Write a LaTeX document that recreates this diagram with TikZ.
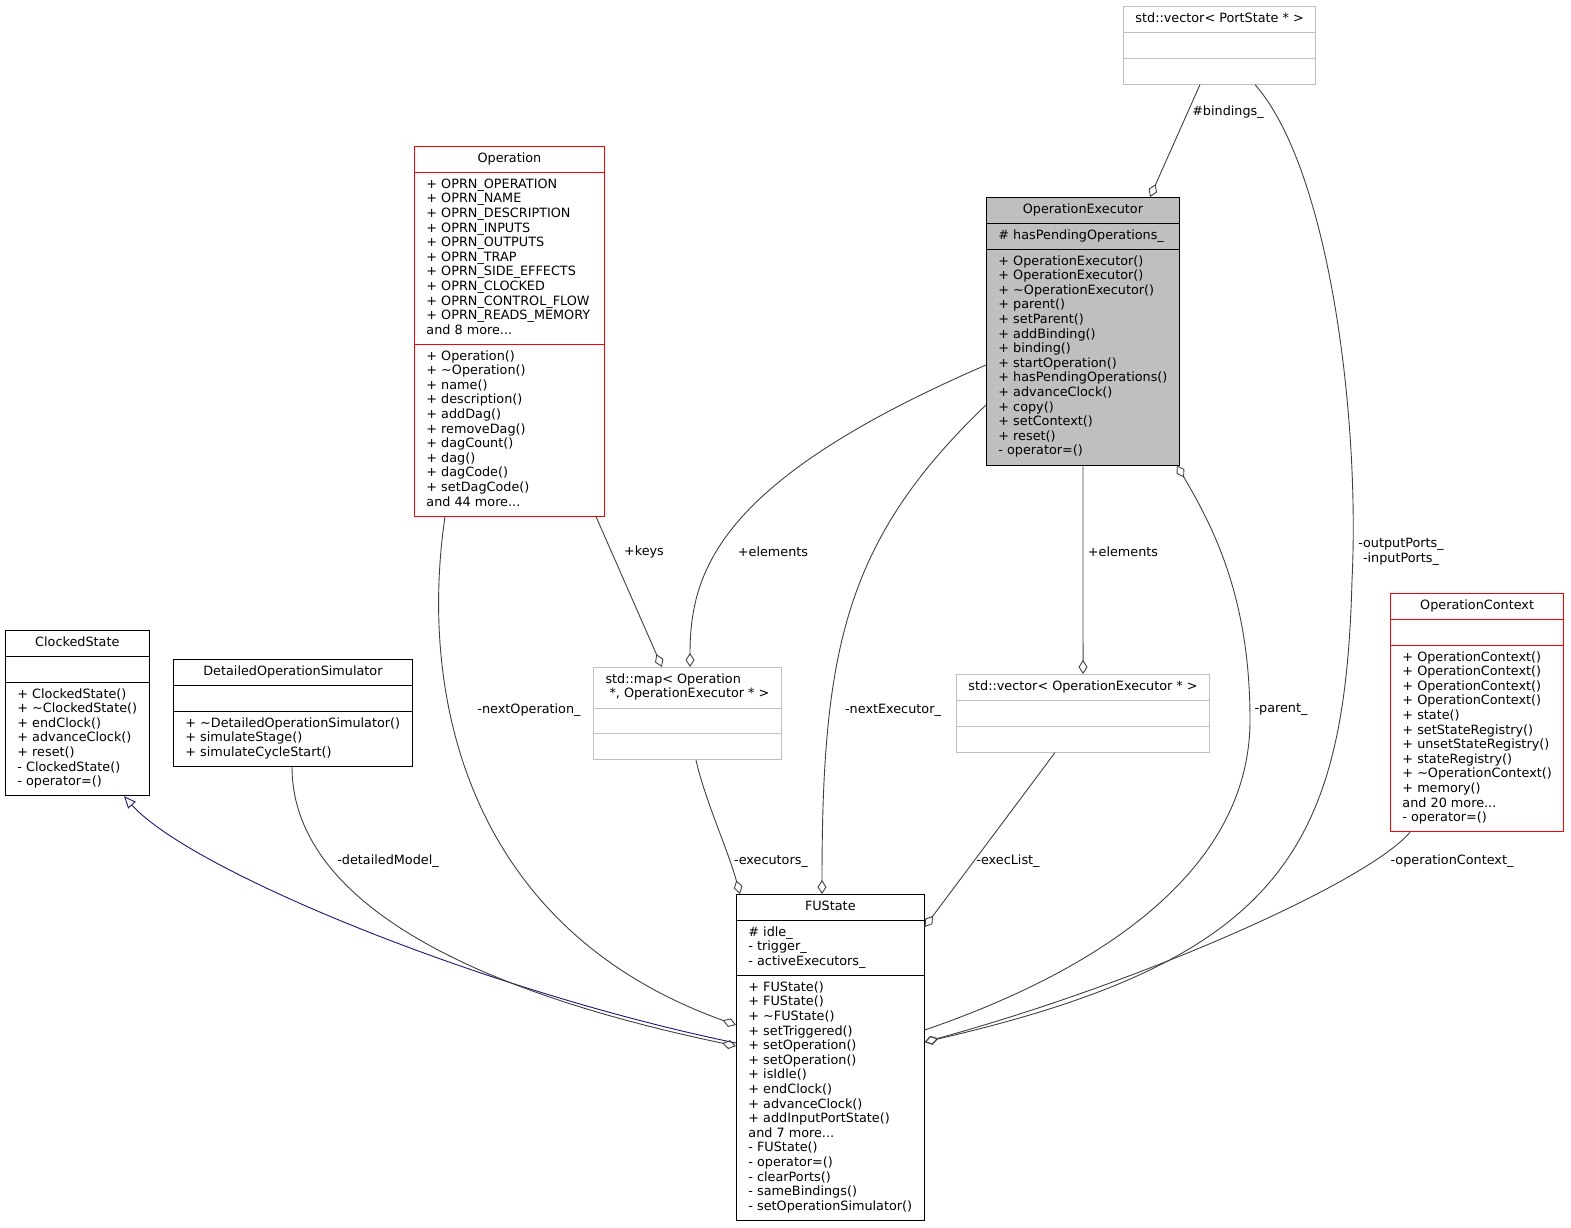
\documentclass[tikz,border=0pt]{standalone}
\usepackage{fontspec}
\setmainfont{DejaVu Sans}
\usepackage{xcolor}
\usetikzlibrary{positioning}
\usetikzlibrary{arrows.meta,shapes}

\definecolor{edgegrey}{HTML}{404040}
\definecolor{inhblue}{HTML}{191970}
\definecolor{lightgrey}{HTML}{BFBFBF}

\begin{document}
\begin{tikzpicture}[x=1pt,y=-1pt,line width=0.9pt,
  font=\fontsize{12.8}{14.6}\selectfont,
  cls/.style={rectangle split,rectangle split parts=3,draw,anchor=north west,
    rectangle split part align={center,left,left},align=left,
    inner xsep=12pt,inner ysep=5.2pt},
  member/.style={draw=edgegrey,-{Diamond[open,length=14pt,width=9pt]}},
  inherit/.style={draw=inhblue,-{Triangle[open,length=12pt,width=10pt]}},
  lbl/.style={inner sep=0pt,align=center}]
  \useasboundingbox (0,0) rectangle (1571,1227);

  \node[cls,minimum width=143pt] (clocked) at (5,630) {\strut ClockedState
    \nodepart{two}\strut
    \nodepart{three}\strut+ ClockedState()\\
    + \textasciitilde ClockedState()\\
    + endClock()\\
    + advanceClock()\\
    + reset()\\
    - ClockedState()\\
    - operator=()\strut};
  \node[cls,minimum width=239pt] (detsim) at (173,659) {\strut DetailedOperationSimulator
    \nodepart{two}\strut
    \nodepart{three}\strut+ \textasciitilde DetailedOperationSimulator()\\
    + simulateStage()\\
    + simulateCycleStart()\strut};
  \node[cls,draw=red,minimum width=190pt] (oper) at (414,146) {\strut Operation
    \nodepart{two}\strut+ OPRN\_OPERATION\\
    + OPRN\_NAME\\
    + OPRN\_DESCRIPTION\\
    + OPRN\_INPUTS\\
    + OPRN\_OUTPUTS\\
    + OPRN\_TRAP\\
    + OPRN\_SIDE\_EFFECTS\\
    + OPRN\_CLOCKED\\
    + OPRN\_CONTROL\_FLOW\\
    + OPRN\_READS\_MEMORY\\
    and 8 more...\strut
    \nodepart{three}\strut+ Operation()\\
    + \textasciitilde Operation()\\
    + name()\\
    + description()\\
    + addDag()\\
    + removeDag()\\
    + dagCount()\\
    + dag()\\
    + dagCode()\\
    + setDagCode()\\
    and 44 more...\strut};
  \node[cls,fill=lightgrey,minimum width=193pt] (opexec) at (986,197) {\strut OperationExecutor
    \nodepart{two}\strut\# hasPendingOperations\_
    \nodepart{three}\strut+ OperationExecutor()\\
    + OperationExecutor()\\
    + \textasciitilde OperationExecutor()\\
    + parent()\\
    + setParent()\\
    + addBinding()\\
    + binding()\\
    + startOperation()\\
    + hasPendingOperations()\\
    + advanceClock()\\
    + copy()\\
    + setContext()\\
    + reset()\\
    - operator=()\strut};
  \node[cls,draw=lightgrey,minimum width=190pt] (portvec) at (1123,6) {\strut std::vector< PortState * >
    \nodepart{two}\strut
    \nodepart{three}\strut};
  \node[cls,draw=lightgrey,minimum width=188pt] (opmap) at (593,667) {\strut std::map< Operation\\
    \hspace{4pt}*, OperationExecutor * >\strut
    \nodepart{two}\strut
    \nodepart{three}\strut};
  \node[cls,draw=lightgrey,minimum width=253pt] (execvec) at (956,674) {\strut std::vector< OperationExecutor * >
    \nodepart{two}\strut
    \nodepart{three}\strut};
  \node[cls,draw=red,minimum width=173pt] (opctx) at (1390,593) {\strut OperationContext
    \nodepart{two}\strut
    \nodepart{three}\strut+ OperationContext()\\
    + OperationContext()\\
    + OperationContext()\\
    + OperationContext()\\
    + state()\\
    + setStateRegistry()\\
    + unsetStateRegistry()\\
    + stateRegistry()\\
    + \textasciitilde OperationContext()\\
    + memory()\\
    and 20 more...\\
    - operator=()\strut};
  \node[cls,minimum width=187pt] (fustate) at (736,894) {\strut FUState
    \nodepart{two}\strut\# idle\_\\
    - trigger\_\\
    - activeExecutors\_\strut
    \nodepart{three}\strut+ FUState()\\
    + FUState()\\
    + \textasciitilde FUState()\\
    + setTriggered()\\
    + setOperation()\\
    + setOperation()\\
    + isIdle()\\
    + endClock()\\
    + advanceClock()\\
    + addInputPortState()\\
    and 7 more...\\
    - FUState()\\
    - operator=()\\
    - clearPorts()\\
    - sameBindings()\\
    - setOperationSimulator()\strut};

  \draw[inherit] ([yshift=-149pt]fustate.north west) .. controls (480,990) and (190,870) .. ([xshift=119pt]clocked.south west);
  \draw[member] ([xshift=119pt]detsim.south west) .. controls (292,880) and (420,980) .. ([yshift=-152pt]fustate.north west);
  \draw[member] ([xshift=31pt]oper.south west) .. controls (418,700) and (470,930) .. ([yshift=-131pt]fustate.north west);
  \draw[member] ([xshift=182pt]oper.south west) -- ([xshift=69pt]opmap.north west);
  \draw[member] ([yshift=-168pt]opexec.north west) .. controls (720,480) and (690,570) .. ([xshift=97pt]opmap.north west);
  \draw[member] ([xshift=103pt]opmap.south west) .. controls (705,800) and (728,850) .. ([xshift=4pt]fustate.north west);
  \draw[member] ([yshift=-208pt]opexec.north west) .. controls (845,540) and (822,650) .. ([xshift=86pt]fustate.north west);
  \draw[member] (opexec.south) -- (execvec.north);
  \draw[member] ([xshift=99pt]execvec.south west) -- ([yshift=-33pt]fustate.north east);
  \draw[member] ([yshift=-136pt]fustate.north east) .. controls (1100,970) and (1250,870) .. (1250,720) .. controls (1250,600) and (1215,530) .. ([xshift=-3pt]opexec.south east);
  \draw[member] ([xshift=77pt]portvec.south west) -- ([xshift=164pt]opexec.north west);
  \draw[member] ([xshift=132pt]portvec.south west) .. controls (1330,170) and (1360,420) .. (1352,580) .. controls (1345,850) and (1280,960) .. ([yshift=-148pt]fustate.north east);
  \draw[member] ([xshift=20pt]opctx.south west) .. controls (1370,880) and (1150,980) .. ([yshift=-148pt]fustate.north east);

  \node[lbl] (lbind) at (1228,112) {\#bindings\_};
  \node[lbl] (lkeys) at (644,552) {+keys};
  \node[lbl] (lelmap) at (773,552) {+elements};
  \node[lbl] (lelvec) at (1123,552) {+elements};
  \node[lbl] (lports) at (1401,552) {-outputPorts\_\\-inputPorts\_};
  \node[lbl] (lnextop) at (529,710) {-nextOperation\_};
  \node[lbl] (lnextex) at (893,710) {-nextExecutor\_};
  \node[lbl] (lparent) at (1281,710) {-parent\_};
  \node[lbl] (ldetail) at (388,861) {-detailedModel\_};
  \node[lbl] (lexecs) at (771,861) {-executors\_};
  \node[lbl] (lexlist) at (1008,861) {-execList\_};
  \node[lbl] (lctx) at (1452,861) {-operationContext\_};
\end{tikzpicture}
\end{document}
